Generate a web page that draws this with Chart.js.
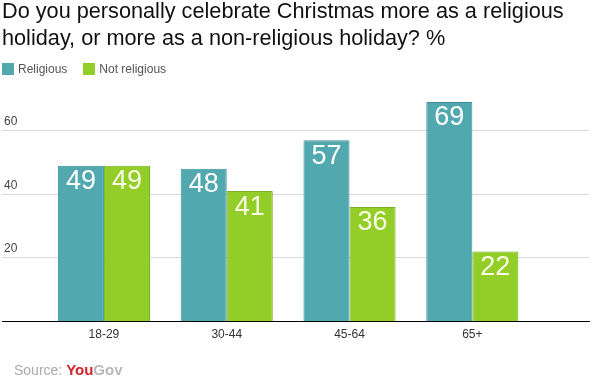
<!DOCTYPE html>
<html>
<head>
<meta charset="utf-8">
<script src="https://cdn.jsdelivr.net/npm/chart.js@4.4.1/dist/chart.umd.min.js"></script>
<style>
  html, body { margin: 0; padding: 0; background: #fff; }
  #wrap { position: relative; width: 600px; height: 384px; font-family: "Liberation Sans", Arial, sans-serif; }
  #chart { position: absolute; left: 0; top: 0; }
  #title { position: absolute; left: 2px; top: -3px; font-size: 21.7px; line-height: 27px; color: #111; white-space: nowrap; }
  #legend { position: absolute; left: 2px; top: 62px; font-size: 12px; line-height: 14px; color: #555; }
  #legend span.item { display: inline-block; margin-right: 16px; }
  #legend i { display: inline-block; width: 12px; height: 12px; vertical-align: -2px; margin-right: 4px; }
  #source { position: absolute; left: 14px; top: 361px; font-size: 14px; color: #aaa; }
  #source .you { color: #d3232b; font-weight: bold; font-size: 15px; }
  #source .gov { color: #b8b8b8; font-weight: bold; font-size: 15px; }
</style>
</head>
<body>
<div id="wrap">
  <canvas id="chart" width="600" height="384"></canvas>
  <div id="title">Do you personally celebrate Christmas more as a religious<br>holiday, or more as a non-religious holiday? %</div>
  <div id="legend"></div>
  <div id="source">Source: <span class="you">You</span><span class="gov">Gov</span></div>
</div>
<script>
const categories = ["18-29", "30-44", "45-64", "65+"];
const religious = [49, 48, 57, 69];
const notReligious = [49, 41, 36, 22];
const yTicks = [20, 40, 60];

const FONT = "'Liberation Sans', Arial, sans-serif";

// value labels inside the top of each bar
const barLabels = {
  id: "barLabels",
  afterDatasetsDraw(chart) {
    const ctx = chart.ctx;
    ctx.save();
    ctx.font = `27px ${FONT}`;
    ctx.textAlign = "center";
    ctx.textBaseline = "middle";
    chart.data.datasets.forEach((ds, di) => {
      const meta = chart.getDatasetMeta(di);
      ctx.fillStyle = ds.labelColor;
      meta.data.forEach((el, i) => {
        ctx.fillText(String(ds.data[i].y), el.x, el.y + 16);
      });
    });
    ctx.restore();
  },
};

const chart = new Chart(document.getElementById("chart"), {
  type: "bar",
  data: {
    datasets: [
      {
        label: "Religious",
        data: religious.map((v, i) => ({ x: i, y: v })),
        backgroundColor: "#52a8af",
        borderColor: "#3e9097",
        borderWidth: 1,
        labelColor: "#ffffff",
      },
      {
        label: "Not religious",
        data: notReligious.map((v, i) => ({ x: i, y: v })),
        backgroundColor: "#93cd27",
        borderColor: "#78b026",
        borderWidth: 1,
        labelColor: "#f8fce6",
      },
    ],
  },
  options: {
    responsive: false,
    animation: false,
    categoryPercentage: 0.75,
    barPercentage: 1,
    layout: { padding: { left: 2, right: 11, top: 95, bottom: 36 } },
    plugins: {
      tooltip: { enabled: false },
      title: { display: false },
      legend: { display: false },
    },
    scales: {
      x: {
        type: "linear",
        offset: false,
        min: -0.83,
        max: 3.95,
        grid: { display: false, drawTicks: false },
        border: { display: true, color: "#000", width: 1 },
        ticks: {
          stepSize: 1,
          includeBounds: false,
          autoSkip: false,
          padding: 6,
          color: "#333",
          font: { family: FONT, size: 12 },
          callback: (v) => (Number.isInteger(v) && categories[v] ? categories[v] : ""),
        },
      },
      y: {
        min: 0,
        max: 71.2,
        afterFit: (scale) => {
          scale.width = 0;
        },
        afterBuildTicks: (scale) => {
          scale.ticks = [0, ...yTicks].map((v) => ({ value: v }));
        },
        grid: {
          drawTicks: false,
          color: (c) => (c.tick && c.tick.value === 0 ? "rgba(0,0,0,0)" : "#d9d9d9"),
        },
        border: { display: false },
        ticks: {
          mirror: true,
          padding: 2,
          labelOffset: -9,
          color: "#444",
          font: { family: FONT, size: 12 },
          callback: (v) => (v === 0 ? "" : v),
        },
      },
    },
  },
  plugins: [barLabels],
});

// legend from the datasets
const legendEl = document.getElementById("legend");
chart.data.datasets.forEach((ds) => {
  const item = document.createElement("span");
  item.className = "item";
  const sw = document.createElement("i");
  sw.style.background = ds.backgroundColor;
  item.appendChild(sw);
  item.appendChild(document.createTextNode(ds.label));
  legendEl.appendChild(item);
});
</script>
</body>
</html>
